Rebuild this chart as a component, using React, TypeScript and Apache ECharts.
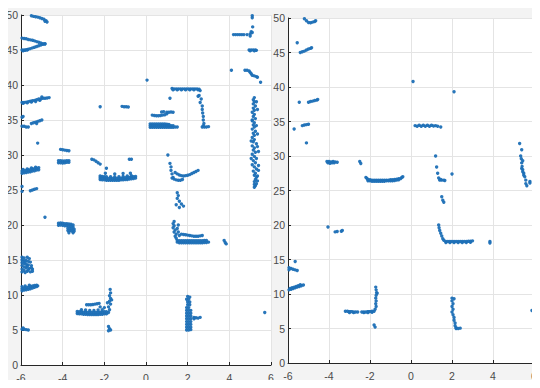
import React, { useEffect, useRef } from "react";
import * as echarts from "echarts";

// ---------- tick labels ----------
const xTicks = [-6, -4, -2, 0, 2, 4, 6];
const yTicks = [0, 5, 10, 15, 20, 25, 30, 35, 40, 45, 50];

// ---------- LEFT PANEL point cloud (x, y) ----------
const leftTop: number[][] = [
  [-5.5, 49.9], [-5.4, 49.8], [-5.3, 49.75], [-5.2, 49.7], [-5.1, 49.6], [-5.0, 49.5], [-4.9, 49.4], [-4.8, 49.2], [-4.75, 49.0], [-4.85, 49.1],
  [-5.95, 46.7], [-5.85, 46.65], [-5.75, 46.6], [-5.65, 46.5], [-5.55, 46.45], [-5.45, 46.4], [-5.35, 46.3], [-5.25, 46.2], [-5.15, 46.1], [-5.05, 46.0], [-4.95, 45.9], [-4.85, 45.85],
  [-5.95, 45.0], [-5.85, 45.0], [-5.75, 45.05], [-5.65, 45.1], [-5.55, 45.2], [-5.45, 45.3], [-5.35, 45.4], [-5.25, 45.5], [-5.15, 45.6], [-5.05, 45.7], [-4.95, 45.8], [-4.85, 45.9], [-5.9, 44.9], [-5.8, 44.95], [-5.7, 45.0],
  [5.1, 49.9], [5.1, 49.6], [5.12, 48.3], [4.2, 47.2], [4.3, 47.2], [4.4, 47.2], [4.5, 47.2], [4.6, 47.2], [4.7, 47.2], [4.85, 47.2], [5.0, 47.3], [5.05, 47.6], [5.0, 47.0], [5.1, 47.5],
  [4.95, 45.0], [5.05, 45.0], [5.15, 45.0], [5.25, 45.0], [5.3, 44.95], [5.0, 44.9], [5.2, 44.9],
  [4.1, 42.1], [4.75, 42.1], [4.85, 42.1], [4.95, 42.0], [5.0, 41.8], [5.05, 41.6], [5.1, 41.4], [5.2, 41.3], [5.3, 41.2], [5.35, 41.1], [5.5, 40.4],
  [0.05, 40.7],
];

const leftPole: number[][] = [
  [5.2, 38.2], [5.15, 37.9], [5.2, 37.6], [5.15, 37.3], [5.25, 37.0], [5.15, 36.7], [5.2, 36.4], [5.1, 36.1], [5.2, 35.8], [5.15, 35.5],
  [5.25, 35.2], [5.1, 34.9], [5.2, 34.6], [5.15, 34.3], [5.2, 34.0], [5.1, 33.7], [5.25, 33.4], [5.15, 33.1], [5.2, 32.8], [5.1, 32.5],
  [5.2, 32.2], [5.15, 31.9], [5.3, 31.6], [5.1, 31.3], [5.2, 31.0], [5.15, 30.7], [5.25, 30.4], [5.1, 30.1], [5.2, 29.8], [5.3, 29.5],
  [5.15, 29.2], [5.25, 28.9], [5.1, 28.6], [5.2, 28.3], [5.3, 28.0], [5.15, 27.7], [5.25, 27.4], [5.2, 27.1], [5.3, 26.8], [5.25, 26.5],
  [5.2, 26.2], [5.3, 25.9], [5.25, 25.6], [5.2, 25.4], [5.35, 36.5], [5.35, 33.0], [5.4, 30.5], [5.4, 28.5], [5.35, 27.0], [5.05, 32.0],
  [5.05, 29.5], [5.1, 35.0], [5.3, 34.2], [5.35, 31.2], [5.4, 27.8], [5.35, 26.3], [5.2, 25.8], [5.3, 37.6],
];

const leftMid: number[][] = [
  [1.25, 39.5], [1.35, 39.45], [1.45, 39.45], [1.55, 39.45], [1.65, 39.45], [1.75, 39.45], [1.85, 39.45], [1.95, 39.45], [2.05, 39.45], [2.15, 39.45], [2.25, 39.45], [2.35, 39.45], [2.45, 39.45], [2.55, 39.4],
  [1.3, 39.3], [1.5, 39.3], [1.7, 39.3], [1.9, 39.3], [2.1, 39.3], [2.3, 39.3], [2.5, 39.3],
  [2.6, 39.2], [2.5, 38.4], [2.55, 38.5], [2.65, 38.0], [2.6, 37.5], [2.7, 37.0], [2.7, 36.5], [2.72, 36.0], [2.75, 35.5], [2.75, 35.0], [2.78, 34.5],
  [2.7, 34.0], [2.8, 34.0], [2.9, 34.0], [3.0, 34.05], [2.75, 34.2],
  [1.15, 38.1],
  [0.3, 35.7], [0.4, 35.65], [0.5, 35.6], [0.6, 35.6], [0.7, 35.65], [0.8, 35.7], [0.9, 35.75], [1.0, 35.9],
  [0.75, 36.15], [0.85, 36.2], [1.0, 36.1], [1.1, 36.1], [1.2, 36.15], [1.3, 36.1],
  [0.2, 33.95], [0.3, 33.95], [0.4, 33.95], [0.5, 33.95], [0.6, 33.95], [0.7, 33.95], [0.8, 33.95], [0.9, 33.95], [1.0, 33.95], [1.1, 33.95], [1.2, 33.95], [1.3, 33.95],
  [0.2, 34.2], [0.3, 34.2], [0.4, 34.2], [0.5, 34.2], [0.6, 34.2], [0.7, 34.2], [0.8, 34.2], [0.9, 34.2], [1.0, 34.2], [1.1, 34.2], [1.2, 34.2], [1.3, 34.2],
  [0.2, 34.45], [0.3, 34.45], [0.4, 34.45], [0.5, 34.45], [0.6, 34.45], [0.7, 34.45], [0.8, 34.45], [0.9, 34.45], [1.0, 34.4], [1.1, 34.35],
  [1.4, 34.0], [1.5, 34.0],
  [-2.2, 36.9], [-1.15, 36.95], [-1.05, 36.9], [-0.95, 36.9], [-0.85, 36.85],
];

const leftWest: number[][] = [
  [-5.95, 37.5], [-5.85, 37.5], [-5.75, 37.55], [-5.65, 37.6], [-5.55, 37.7], [-5.45, 37.75], [-5.35, 37.8], [-5.25, 37.9], [-5.15, 38.0], [-5.05, 38.0], [-4.95, 38.1], [-4.85, 38.1], [-4.75, 38.15], [-4.65, 38.2],
  [-5.9, 37.4], [-5.7, 37.45], [-5.5, 37.55], [-5.3, 37.65], [-5.1, 37.8], [-5.0, 38.3],
  [-5.95, 35.4], [-5.9, 35.5], [-5.95, 34.1], [-5.85, 34.1], [-5.75, 34.0], [-5.65, 34.0],
  [-5.5, 34.5], [-5.4, 34.6], [-5.3, 34.7], [-5.2, 34.8], [-5.1, 34.9], [-5.0, 35.0], [-5.25, 34.5],
  [-5.2, 31.7],
  [-5.95, 27.4], [-5.85, 27.45], [-5.75, 27.5], [-5.65, 27.55], [-5.55, 27.6], [-5.45, 27.7], [-5.35, 27.75], [-5.25, 27.85], [-5.15, 27.9],
  [-5.95, 27.7], [-5.85, 27.75], [-5.75, 27.8], [-5.65, 27.85], [-5.55, 27.9], [-5.45, 28.0], [-5.35, 28.05], [-5.25, 28.1], [-5.15, 28.2],
  [-5.9, 27.95], [-5.7, 28.0], [-5.5, 28.15], [-5.3, 28.25],
  [-4.1, 30.8], [-4.0, 30.75], [-3.9, 30.7], [-3.8, 30.65], [-3.7, 30.6],
  [-4.2, 29.2], [-4.1, 29.2], [-4.0, 29.15], [-3.9, 29.15], [-3.8, 29.2], [-3.7, 29.2],
  [-4.2, 28.9], [-4.1, 28.9], [-4.0, 28.85], [-3.9, 28.9], [-3.8, 28.95], [-3.7, 28.95],
  [-2.6, 29.4], [-2.5, 29.3], [-2.4, 29.1], [-2.3, 28.9], [-2.2, 28.7], [-1.9, 28.1], [-1.95, 27.4],
  [-5.95, 25.5], [-5.95, 24.8], [-5.55, 24.9], [-5.45, 25.0], [-5.35, 25.1], [-5.25, 25.2],
  [-4.85, 21.1],
];

const leftWall: number[][] = [
  [-2.2, 26.5], [-2.1, 26.45], [-2.0, 26.45], [-1.9, 26.4], [-1.8, 26.4], [-1.7, 26.4], [-1.6, 26.4], [-1.5, 26.4], [-1.4, 26.4], [-1.3, 26.4], [-1.2, 26.45], [-1.1, 26.45], [-1.0, 26.5], [-0.9, 26.5], [-0.8, 26.55], [-0.7, 26.6], [-0.6, 26.65], [-0.5, 26.7],
  [-2.2, 26.75], [-2.1, 26.7], [-2.0, 26.7], [-1.9, 26.65], [-1.8, 26.65], [-1.7, 26.65], [-1.6, 26.65], [-1.5, 26.65], [-1.4, 26.65], [-1.3, 26.65], [-1.2, 26.7], [-1.1, 26.7], [-1.0, 26.75], [-0.9, 26.75], [-0.8, 26.8], [-0.7, 26.85], [-0.6, 26.9], [-0.5, 26.95],
  [-2.2, 27.0], [-2.1, 26.95], [-2.0, 26.9], [-1.9, 26.9], [-1.7, 26.9], [-1.5, 26.9], [-1.3, 26.9], [-1.1, 26.95], [-0.9, 27.0], [-0.7, 27.05],
  [-1.5, 27.3], [-1.1, 27.35], [-0.75, 27.4],
  [-0.8, 29.4], [-0.7, 29.4],
  [1.05, 30.0], [1.15, 28.8], [1.2, 28.3], [1.2, 27.8], [1.25, 27.3], [1.3, 26.8],
  [1.4, 27.5], [1.5, 27.3], [1.6, 27.15], [1.7, 27.05], [1.8, 27.0], [1.9, 27.05], [2.0, 27.1], [2.1, 27.2], [2.2, 27.35], [2.3, 27.5], [2.4, 27.65], [2.5, 27.8],
  [1.25, 26.7], [1.35, 26.55], [1.45, 26.45], [1.55, 26.4], [1.65, 26.4], [1.75, 26.5],
  [1.5, 24.6], [1.55, 24.2], [1.5, 23.8], [1.6, 23.4], [1.7, 23.0], [1.8, 22.7], [1.45, 22.9], [1.6, 22.5],
];

const leftLow: number[][] = [
  [-4.2, 20.25], [-4.1, 20.3], [-4.0, 20.25], [-3.9, 20.2], [-3.8, 20.2], [-3.7, 20.15], [-3.6, 20.1], [-3.5, 20.0],
  [-4.2, 19.95], [-4.1, 20.0], [-4.0, 19.95], [-3.9, 19.9], [-3.8, 19.9], [-3.7, 19.85], [-3.6, 19.8], [-3.5, 19.7],
  [-3.75, 19.5], [-3.65, 19.5], [-3.55, 19.45], [-3.45, 19.4], [-3.75, 19.2], [-3.65, 19.2], [-3.55, 19.15], [-3.45, 19.1], [-3.7, 18.9], [-3.5, 18.9],
  [1.35, 20.5], [1.3, 20.2], [1.35, 19.9], [1.3, 19.6], [1.4, 19.3], [1.35, 19.0], [1.45, 18.7], [1.4, 18.4], [1.45, 18.1], [1.5, 17.8], [1.5, 17.55],
  [1.55, 20.0], [1.5, 19.5], [1.55, 19.0], [1.6, 18.5],
  [1.6, 17.45], [1.7, 17.45], [1.8, 17.45], [1.9, 17.45], [2.0, 17.45], [2.1, 17.45], [2.2, 17.45], [2.3, 17.45], [2.4, 17.45], [2.5, 17.45], [2.6, 17.45], [2.7, 17.45], [2.8, 17.5], [2.9, 17.5], [3.0, 17.55],
  [1.6, 17.75], [1.7, 17.75], [1.8, 17.75], [1.9, 17.75], [2.0, 17.75], [2.1, 17.75], [2.2, 17.75], [2.3, 17.75], [2.4, 17.75], [2.5, 17.75], [2.6, 17.75], [2.7, 17.75], [2.8, 17.8], [2.9, 17.8],
  [1.7, 18.7], [1.8, 18.65], [1.9, 18.6], [2.0, 18.55], [2.1, 18.5], [2.2, 18.45], [2.3, 18.4], [2.4, 18.4], [2.5, 18.4], [2.6, 18.45], [2.7, 18.5],
  [3.75, 17.8], [3.8, 17.5], [3.85, 17.3],
  [-5.95, 15.4], [-5.85, 15.3], [-5.7, 15.4], [-5.6, 15.2], [-5.95, 15.0], [-5.85, 14.9], [-5.75, 14.95], [-5.65, 14.8], [-5.55, 14.7], [-5.95, 14.6],
  [-5.85, 14.5], [-5.75, 14.4], [-5.65, 14.3], [-5.5, 14.2], [-5.95, 14.2], [-5.85, 14.0], [-5.75, 13.9], [-5.6, 13.8], [-5.45, 13.7], [-5.95, 13.7],
  [-5.85, 13.5], [-5.7, 13.4], [-5.55, 13.3], [-5.45, 13.4], [-5.95, 13.3], [-5.8, 13.2], [-5.65, 13.6], [-5.5, 13.9], [-5.8, 14.7], [-5.7, 14.1],
  [-5.95, 10.6], [-5.85, 10.7], [-5.75, 10.75], [-5.65, 10.8], [-5.55, 10.9], [-5.45, 11.0], [-5.35, 11.1], [-5.25, 11.2], [-5.95, 10.9], [-5.85, 11.0],
  [-5.75, 11.05], [-5.65, 11.1], [-5.55, 11.2], [-5.45, 11.3], [-5.35, 11.35], [-5.25, 11.4], [-5.95, 11.2], [-5.8, 11.3], [-5.6, 11.4], [-5.2, 11.3],
  [-5.95, 5.1], [-5.85, 5.1], [-5.75, 5.05], [-5.65, 5.0], [-5.9, 5.3],
  [-3.3, 7.35], [-3.2, 7.3], [-3.1, 7.3], [-3.0, 7.25], [-2.9, 7.25], [-2.8, 7.2], [-2.7, 7.2], [-2.6, 7.2], [-2.5, 7.2], [-2.4, 7.2], [-2.3, 7.2], [-2.2, 7.25], [-2.1, 7.25], [-2.0, 7.3], [-1.9, 7.3],
  [-3.3, 7.65], [-3.2, 7.6], [-3.1, 7.6], [-3.0, 7.55], [-2.9, 7.55], [-2.8, 7.5], [-2.7, 7.5], [-2.6, 7.5], [-2.5, 7.5], [-2.4, 7.5], [-2.3, 7.5], [-2.2, 7.55], [-2.1, 7.55], [-2.0, 7.6], [-1.9, 7.6],
  [-3.1, 7.9], [-2.9, 7.85], [-2.7, 7.8], [-2.5, 7.8], [-2.3, 7.85], [-2.1, 7.9], [-2.0, 8.2], [-2.2, 8.3],
  [-2.85, 8.6], [-2.75, 8.6], [-2.65, 8.6], [-2.55, 8.65], [-2.45, 8.7], [-2.35, 8.75], [-2.25, 8.8],
  [-1.8, 7.5], [-1.75, 7.9], [-1.8, 8.3], [-1.7, 8.7], [-1.75, 9.1], [-1.7, 9.5], [-1.75, 9.9], [-1.7, 10.3], [-1.72, 10.8], [-1.65, 9.3], [-1.85, 8.9],
  [-1.8, 5.5], [-1.75, 5.2], [-1.8, 4.9], [-1.7, 5.0],
  [1.95, 5.0], [2.05, 5.0], [2.15, 5.05], [1.95, 5.4], [2.05, 5.4], [2.15, 5.4], [1.95, 5.8], [2.05, 5.8], [2.15, 5.8], [1.95, 6.2], [2.05, 6.2], [2.15, 6.2],
  [1.95, 6.6], [2.05, 6.6], [2.15, 6.6], [1.95, 7.0], [2.05, 7.0], [2.15, 7.0], [1.95, 7.4], [2.05, 7.4], [2.15, 7.4], [1.95, 7.8], [2.05, 7.8], [2.15, 7.8],
  [1.95, 8.2], [2.05, 8.2], [2.0, 8.6], [2.1, 8.6], [2.0, 9.0], [2.1, 9.0], [1.95, 9.4], [2.05, 9.4], [2.1, 9.7], [2.0, 9.8],
  [2.3, 6.8], [2.4, 6.75], [2.5, 6.7], [2.6, 6.8], [2.3, 6.6],
  [5.7, 7.5],
];

// ---------- RIGHT PANEL point cloud (x, y) ----------
const rightTop: number[][] = [
  [-5.2, 49.9], [-5.1, 49.6], [-5.0, 49.35], [-4.9, 49.3], [-4.8, 49.4], [-4.7, 49.5], [-4.65, 49.6],
  [-5.55, 46.4],
  [-5.4, 45.0], [-5.3, 45.1], [-5.2, 45.2], [-5.1, 45.35], [-5.0, 45.5], [-4.9, 45.6], [-4.85, 45.7],
  [-5.45, 37.8], [-5.0, 37.8], [-4.9, 37.9], [-4.8, 37.95], [-4.7, 38.05], [-4.6, 38.1], [-4.55, 38.2],
  [-5.7, 33.9], [-5.3, 34.4], [-5.2, 34.5], [-5.1, 34.55], [-5.0, 34.6],
  [-5.1, 31.9],
  [-4.1, 29.2], [-4.0, 29.2], [-3.9, 29.15], [-3.8, 29.2], [-3.7, 29.15], [-3.6, 29.1],
  [-4.05, 29.0], [-3.95, 28.95], [-3.85, 29.0], [-3.75, 29.0],
  [-2.5, 29.2], [-2.45, 28.9],
  [0.1, 40.8], [2.1, 39.3],
  [0.2, 34.4], [0.3, 34.3], [0.4, 34.45], [0.5, 34.3], [0.6, 34.45], [0.7, 34.3], [0.8, 34.45], [0.9, 34.3], [1.0, 34.45], [1.1, 34.35], [1.2, 34.4], [1.3, 34.3], [1.45, 34.2],
  [1.2, 30.0], [1.25, 28.4], [1.3, 27.5], [1.35, 26.8], [1.4, 26.5], [1.5, 26.5], [1.6, 26.5], [1.65, 26.45], [1.45, 26.6],
  [2.0, 27.4],
  [1.5, 24.1], [1.55, 23.6], [1.6, 23.3],
  [5.3, 31.8], [5.4, 30.9], [5.35, 30.0], [5.38, 29.6], [5.4, 29.0], [5.42, 28.5], [5.45, 28.0], [5.5, 27.5], [5.55, 27.0], [5.6, 26.5], [5.6, 26.0], [5.65, 25.7], [5.8, 26.3], [5.8, 26.1], [5.45, 27.7], [5.5, 27.2], [5.4, 28.2], [5.45, 29.3],
];

const rightWall: number[][] = [
  [-2.2, 26.9], [-2.15, 26.75], [-2.1, 26.6], [-2.0, 26.55], [-1.9, 26.5], [-1.8, 26.5], [-1.7, 26.5], [-1.6, 26.5], [-1.5, 26.5], [-1.4, 26.5], [-1.3, 26.5], [-1.2, 26.5], [-1.1, 26.5], [-1.0, 26.55], [-0.9, 26.55], [-0.8, 26.6], [-0.7, 26.65], [-0.6, 26.7], [-0.5, 26.75], [-0.45, 26.9],
  [-2.1, 26.4], [-2.0, 26.4], [-1.9, 26.35], [-1.8, 26.35], [-1.7, 26.35], [-1.6, 26.35], [-1.5, 26.35], [-1.4, 26.35], [-1.3, 26.35], [-1.2, 26.4], [-1.1, 26.4], [-1.0, 26.4], [-0.9, 26.4], [-0.8, 26.45], [-0.7, 26.5], [-0.6, 26.55],
  [-0.4, 27.0],
];

const rightLow: number[][] = [
  [-4.05, 19.7], [-3.7, 19.0], [-3.6, 19.05], [-3.4, 19.1], [-3.35, 19.2],
  [1.35, 20.0], [1.37, 19.6], [1.4, 19.2], [1.45, 18.8], [1.5, 18.4], [1.55, 18.0], [1.6, 17.8],
  [1.7, 17.6], [1.8, 17.6], [1.9, 17.6], [2.0, 17.6], [2.1, 17.6], [2.2, 17.6], [2.3, 17.6], [2.4, 17.6], [2.5, 17.6], [2.6, 17.6], [2.7, 17.6], [2.8, 17.65], [2.9, 17.65], [3.0, 17.7],
  [1.7, 17.45], [1.9, 17.45], [2.1, 17.45], [2.3, 17.45], [2.5, 17.45], [2.7, 17.45], [2.9, 17.5],
  [3.85, 17.6], [3.85, 17.4],
  [-5.65, 14.7], [-5.95, 13.8], [-5.85, 13.7], [-5.75, 13.6], [-5.65, 13.5], [-5.55, 13.4], [-5.95, 13.5],
  [-5.95, 10.6], [-5.85, 10.7], [-5.75, 10.8], [-5.65, 10.9], [-5.55, 11.0], [-5.45, 11.1], [-5.35, 11.2], [-5.25, 11.3],
  [-5.9, 10.8], [-5.8, 10.9], [-5.7, 11.0], [-5.6, 11.1], [-5.5, 11.2], [-5.4, 11.35],
  [-3.2, 7.5], [-3.1, 7.5], [-3.0, 7.45], [-2.9, 7.45], [-2.8, 7.4], [-2.7, 7.4], [-2.6, 7.4],
  [-2.4, 7.4], [-2.3, 7.4], [-2.2, 7.4], [-2.1, 7.45], [-2.0, 7.45], [-1.9, 7.5], [-1.8, 7.5],
  [-3.0, 7.3], [-2.8, 7.3], [-2.3, 7.3], [-2.1, 7.3], [-1.9, 7.35],
  [-1.75, 7.8], [-1.7, 8.2], [-1.72, 8.6], [-1.7, 9.0], [-1.72, 9.4], [-1.7, 9.8], [-1.68, 10.2], [-1.7, 10.6], [-1.72, 11.0], [-1.65, 10.1],
  [-1.8, 5.5], [-1.75, 5.2],
  [2.0, 9.4], [2.1, 9.3], [2.0, 9.0], [2.05, 8.6], [2.0, 8.2], [2.05, 7.8], [2.0, 7.4], [2.05, 7.0], [2.1, 6.6], [2.1, 6.2], [2.15, 5.8], [2.15, 5.4], [2.2, 5.1],
  [2.2, 5.0], [2.3, 5.0], [2.4, 5.05],
  [5.9, 7.6],
];

const BLUE = "#1c6fb6";

function axisPair(gridIndex: number) {
  const label = {
    fontFamily: "Liberation Sans Narrow, Liberation Sans, Arial",
    fontSize: 10.5,
    color: "#4a4a4a",
  };
  const common = {
    gridIndex,
    axisLine: { show: true, onZero: false, lineStyle: { color: "#262626", width: 1 } },
    axisTick: { show: true, inside: true, length: 3, lineStyle: { color: "#262626" } },
    splitLine: { show: true, lineStyle: { color: "#e4e4e4", width: 1 } },
  };
  return {
    x: {
      ...common,
      type: "value",
      position: "bottom",
      min: xTicks[0],
      max: xTicks[xTicks.length - 1],
      interval: 2,
      axisLabel: { ...label, margin: 7 },
    },
    y: {
      ...common,
      type: "value",
      position: "left",
      min: yTicks[0],
      max: yTicks[yTicks.length - 1],
      interval: 5,
      axisLabel: { ...label, margin: 3 },
    },
  };
}

function scatter(data: number[][], idx: number) {
  return {
    type: "scatter",
    xAxisIndex: idx,
    yAxisIndex: idx,
    data,
    symbol: "circle",
    symbolSize: 3.4,
    itemStyle: { color: BLUE, opacity: 0.95 },
    silent: true,
  };
}

export default function App() {
  const ref = useRef<HTMLDivElement>(null);
  useEffect(() => {
    if (!ref.current) return;
    const chart = echarts.init(ref.current, undefined, { renderer: "svg" });
    const a0 = axisPair(0);
    const a1 = axisPair(1);
    chart.setOption({
      animation: false,
      backgroundColor: "#f3f3f3",
      grid: [
        { left: 21, right: 269, top: 15, bottom: 23, show: true, backgroundColor: "#ffffff", borderWidth: 0 },
        { left: 288, right: 6, top: 18, bottom: 25, show: true, backgroundColor: "#ffffff", borderWidth: 0 },
      ],
      xAxis: [a0.x, a1.x],
      yAxis: [a0.y, a1.y],
      series: [
        scatter(leftTop, 0),
        scatter(leftPole, 0),
        scatter(leftMid, 0),
        scatter(leftWest, 0),
        scatter(leftWall, 0),
        scatter(leftLow, 0),
        scatter(rightTop, 1),
        scatter(rightWall, 1),
        scatter(rightLow, 1),
      ],
    });
    return () => chart.dispose();
  }, []);
  return (
    <div style={{ margin: -8 }}>
      <div ref={ref} style={{ width: 540, height: 388 }} />
    </div>
  );
}
